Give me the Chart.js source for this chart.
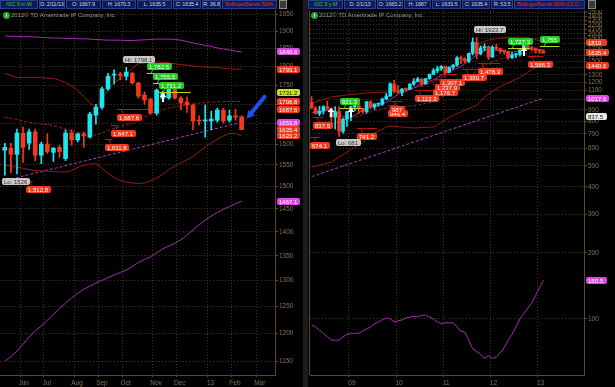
<!DOCTYPE html>
<html lang="en">
<head>
<meta charset="UTF-8">
<title>/GC gold futures</title>
<style>
  body { margin:0; background:#000; width:615px; height:387px; overflow:hidden; position:relative; font-family:"Liberation Sans", Arial, sans-serif; }
  canvas { position:absolute; top:10px; }
  #weekly { left:0; }
  #monthly { left:308px; }
  .hb { position:absolute; top:0; height:9px; box-sizing:border-box; background:#0b1b5c; border:1px solid #2c3f8c; color:#d4d4dc; font-size:5.5px; letter-spacing:-0.15px; line-height:7px; text-align:center; white-space:nowrap; overflow:hidden; }
  .hb.sym { color:#2fd02f; }
  .hb.study { color:#e0231c; text-align:left; padding-left:2px; }
  .icon { position:absolute; top:0; width:8px; height:9px; background:#3a3a3a; border:1px solid #8a8a8a; box-sizing:border-box; }
  .copy { position:absolute; top:12px; font-size:6px; color:#9c9c9c; white-space:nowrap; }
  .copy b { display:inline-block; width:7px; height:7px; border-radius:50%; background:#21a83a; color:#fff; font-size:5px; line-height:7px; text-align:center; margin-right:1px; vertical-align:middle; }
  .split { position:absolute; top:0; left:303px; width:5px; height:387px; background:#1c1c1c; }
  .edge { position:absolute; top:10px; left:309px; width:1px; height:365px; background:#5c4824; }
</style>
</head>
<body>
<div class="hb sym" style="left:0;width:38px">/GC 9 m W</div>
<div class="hb" style="left:39px;width:26px">D: 2/11/13</div>
<div class="hb" style="left:66px;width:35px">O: 1667.9</div>
<div class="hb" style="left:102px;width:34px">H: 1670.3</div>
<div class="hb" style="left:137px;width:35px">L: 1635.5</div>
<div class="hb" style="left:173px;width:28px">C: 1635.4</div>
<div class="hb" style="left:202px;width:19px">R: 36.8</div>
<div class="hb study" style="left:222px;width:55px">BollingerBands:SMA ...</div>
<div class="icon" style="left:279px"></div>

<div class="split"></div>

<div class="hb sym" style="left:308px;width:35px">/GC 5 y M</div>
<div class="hb" style="left:344px;width:32px">D: 2/1/13</div>
<div class="hb" style="left:377px;width:26px">O: 1665.2</div>
<div class="hb" style="left:404px;width:27px">H: 1687</div>
<div class="hb" style="left:432px;width:29px">L: 1633.5</div>
<div class="hb" style="left:462px;width:28px">C: 1635.4</div>
<div class="hb" style="left:491px;width:22px">R: 53.5</div>
<div class="hb study" style="left:514px;width:71px">BollingerBands:SMA (CLO...</div>
<div class="icon" style="left:588px"></div>

<canvas id="weekly" width="303" height="377"></canvas>
<canvas id="monthly" width="307" height="377"></canvas>
<div class="edge"></div>
<div class="copy" style="left:3px"><b>i</b>2012© TD Ameritrade IP Company, Inc.</div>
<div class="copy" style="left:311px"><b>i</b>2012© TD Ameritrade IP Company, Inc.</div>

<script src="https://cdn.jsdelivr.net/npm/chart.js"></script>
<script>
// ---------- weekly panel (index 0 = week of May 14 2012) ----------
const wOpen  = [1585, 1590, 1575, 1627, 1602, 1630, 1573, 1600, 1580, 1592,
                1565, 1627, 1610, 1625, 1617, 1672, 1692, 1740, 1777, 1779,
                1774, 1782, 1756, 1724, 1713, 1677, 1715, 1716, 1745, 1716,
                1706, 1698, 1659, 1657, 1657, 1659, 1685, 1659, 1670, 1667.9];
const wHigh  = [1602, 1602, 1637, 1642, 1637, 1637, 1605, 1625, 1592, 1597,
                1635, 1635, 1627, 1630, 1679, 1700, 1745, 1782, 1791, 1785,
                1798.1, 1785, 1758, 1732, 1716, 1740, 1735, 1750, 1752, 1720,
                1719, 1700, 1670, 1698, 1682, 1690, 1690, 1685, 1687, 1670.3];
const wLow   = [1526, 1532, 1529, 1556, 1587, 1560, 1553, 1577, 1558, 1568,
                1560, 1597, 1605, 1592, 1615, 1649, 1687, 1737, 1753, 1764,
                1764, 1753, 1716, 1700, 1675, 1672, 1708, 1713, 1713, 1685,
                1679, 1635, 1647, 1617, 1635, 1654, 1652, 1654, 1659, 1635.5];
const wClose = [1592, 1575, 1627, 1592, 1630, 1573, 1600, 1582, 1590, 1582,
                1627, 1610, 1625, 1620, 1675, 1692, 1740, 1774, 1779, 1776,
                1785, 1756, 1721, 1711, 1677, 1737, 1730, 1745, 1716, 1703,
                1698, 1657, 1657, 1660, 1662, 1685, 1657, 1670, 1667, 1635.4];

const wBBUpper = [1782, 1776, 1770, 1770, 1771, 1771, 1770, 1769, 1768, 1763,
                  1757, 1748, 1735, 1720, 1703, 1692, 1714, 1737, 1758, 1766,
                  1780, 1795, 1808, 1810, 1812, 1813, 1812, 1810, 1808, 1806,
                  1804, 1802, 1800, 1799, 1798, 1797, 1796, 1794, 1793, 1793.1];
const wBBMid   = [1667, 1664, 1661, 1657, 1654, 1652, 1650, 1648, 1645, 1641,
                  1637, 1632, 1629, 1626, 1623, 1622, 1627, 1633, 1638, 1643,
                  1648, 1651, 1659, 1667, 1675, 1681, 1686, 1690, 1693, 1696,
                  1699, 1701, 1703, 1704, 1706, 1706, 1707, 1707, 1707, 1706.8];
const wBBLower = [1550, 1547, 1545, 1542, 1539, 1537, 1536, 1535, 1534, 1534,
                  1533, 1537, 1544, 1549, 1552, 1553, 1542, 1530, 1520, 1514,
                  1510, 1508, 1507, 1508, 1513, 1519, 1528, 1539, 1547, 1555,
                  1562, 1570, 1581, 1593, 1603, 1612, 1620, 1626, 1626, 1620.2];
const wEnvTop  = [1886, 1885, 1885, 1884, 1884, 1883, 1882, 1881, 1880, 1880,
                  1879, 1879, 1878, 1878, 1877, 1876, 1875, 1874, 1874, 1874,
                  1873, 1873, 1874, 1875, 1876, 1877, 1877, 1877, 1876, 1874,
                  1870, 1866, 1863, 1859, 1856, 1852, 1849, 1846, 1843, 1840.6];
const wSmaLong = [1150, 1158, 1168, 1180, 1193, 1204, 1213, 1224, 1235, 1246,
                  1256, 1266, 1275, 1283, 1289, 1295, 1300, 1306, 1311, 1316,
                  1321, 1328, 1336, 1342, 1348, 1356, 1364, 1370, 1376, 1383,
                  1393, 1404, 1415, 1425, 1434, 1442, 1449, 1455, 1461, 1467.1];
const wTrendIdx = [1, 39];
const wTrendVal = [1517, 1653.8];

const wMonthPos = [2.6, 6.4, 11.4, 15.5, 19.4, 24.4, 28.3, 33.4, 37.4, 41.5];
const wMonthLbl = ['Jun', 'Jul', 'Aug', 'Sep', 'Oct', 'Nov', 'Dec', '13', 'Feb', 'Mar'];
const wPriceTicks = [1150, 1200, 1250, 1300, 1350, 1400, 1450, 1500, 1550, 1600,
                     1650, 1700, 1750, 1800, 1850, 1900, 1950];

const wSupVal  = [1687.6, 1647.1, 1611.8, 1512.8];
const wSupFrom = [18.5, 17.5, 16.5, 3.5];
const wSupTo   = [23.6, 18.7, 17.7, 4.6];
const wResVal  = [1782.5, 1755.5, 1731.2];
const wResFrom = [23.4, 24.4, 25.4];
const wResTo   = [25, 25.6, 30.6];
const wTagVal  = [1840.6, 1793.1, 1731.2, 1706.8, 1687.6, 1653.8, 1635.4, 1620.2, 1467.1];
const wTagKind = ['mag', 'red', 'yel', 'red', 'red', 'mag', 'red', 'red', 'mag'];
const wBuyIdx  = [26];
const wBuyVal  = [1729];

// ---------- monthly panel (index 0 = Jan 2009, starts Mar 2008) ----------
const mOpen  = [972, 917, 865, 887, 930, 912, 833, 884, 718, 816,
                884, 928, 942, 916, 884, 979, 927, 955, 955, 1008, 1040, 1182,
                1097, 1081, 1118, 1115, 1180, 1212, 1245, 1181, 1248, 1308, 1359, 1385,
                1421, 1333, 1410, 1439, 1556, 1536, 1500, 1628, 1828, 1620, 1724, 1746,
                1566, 1737, 1710, 1669, 1664, 1560, 1604, 1610, 1687, 1772, 1719, 1712,
                1676, 1665.2];
const mHigh  = [1034, 932, 935, 940, 988, 919, 931, 932, 825, 889,
                937, 1007, 963, 916, 985, 991, 961, 966, 1019, 1070, 1195, 1227,
                1163, 1127, 1135, 1183, 1250, 1266, 1246, 1250, 1310, 1388, 1424, 1432,
                1424, 1414, 1448, 1575, 1578, 1555, 1632, 1917, 1923.7, 1764, 1804, 1764,
                1764, 1792, 1721, 1679, 1668, 1641, 1630, 1694, 1790, 1798, 1755, 1726,
                1698, 1687];
const mLow   = [912, 861, 846, 860, 903, 775, 735, 681, 705, 755,
                802, 890, 865, 866, 868, 913, 904, 934, 942, 1000, 1036, 1075,
                1072, 1045, 1088, 1114, 1162, 1204, 1155, 1180, 1240, 1300, 1330, 1360,
                1308, 1329, 1380, 1418, 1462, 1478, 1478, 1603, 1535, 1602, 1670, 1523,
                1562, 1687, 1627, 1615, 1527, 1540, 1555, 1582, 1683, 1696, 1672, 1635,
                1627, 1633.5];
const mClose = [917, 865, 887, 930, 912, 833, 884, 718, 816, 884,
                928, 942, 916, 884, 979, 927, 955, 955, 1008, 1040, 1182, 1097,
                1081, 1118, 1115, 1180, 1212, 1245, 1181, 1248, 1308, 1359, 1385, 1421,
                1333, 1410, 1439, 1556, 1536, 1500, 1628, 1828, 1620, 1724, 1746, 1566,
                1737, 1710, 1669, 1664, 1560, 1604, 1610, 1687, 1772, 1719, 1712, 1676,
                1663, 1635.4];

const mBBUpper = [970, 977, 990, 1003, 1016, 1030, 1035, 1040, 1046, 1052,
                  1056, 1060, 1064, 1069, 1074, 1076, 1078, 1080, 1083, 1085,
                  1092, 1098, 1105, 1112, 1118, 1125, 1132, 1146, 1160, 1175,
                  1190, 1205, 1228, 1252, 1288, 1326, 1380, 1440, 1505, 1570,
                  1635, 1700, 1760, 1816, 1845, 1874, 1888, 1901, 1914, 1918,
                  1922, 1926, 1930, 1934, 1930, 1920, 1905, 1885, 1855, 1819];
const mBBMid   = [731, 738, 747, 756, 765, 775, 784, 794, 804, 815,
                  824, 834, 843, 854, 867, 880, 892, 900, 909, 918,
                  925, 927, 929, 932, 934, 936, 938, 946, 954, 962,
                  970, 978, 999, 1021, 1050, 1078, 1114, 1152, 1193, 1233,
                  1274, 1314, 1352, 1400, 1435, 1467, 1492, 1511, 1532, 1545,
                  1558, 1572, 1587, 1600, 1615, 1628, 1640, 1645, 1640, 1630];
const mBBLower = [492, 498, 503, 508, 513, 520, 533, 547, 562, 577,
                  592, 607, 622, 638, 660, 683, 705, 720, 735, 750,
                  758, 756, 753, 751, 749, 746, 744, 745, 747, 748,
                  750, 751, 770, 790, 812, 830, 847, 864, 880, 896,
                  912, 928, 943, 985, 1025, 1060, 1095, 1120, 1150, 1172,
                  1193, 1218, 1243, 1265, 1300, 1335, 1375, 1405, 1425, 1440.6];
const mSmaShort = [875, 880, 885, 890, 895, 890, 880, 855, 840, 830,
                   835, 850, 870, 900, 915, 925, 935, 940, 955, 975,
                   1000, 1030, 1060, 1080, 1100, 1115, 1135, 1160, 1185, 1200,
                   1215, 1235, 1260, 1290, 1320, 1345, 1370, 1390, 1420, 1460,
                   1500, 1550, 1610, 1650, 1680, 1700, 1690, 1680, 1670, 1660,
                   1650, 1650, 1660, 1680, 1690, 1700, 1700, 1700, 1695, 1690];
const mSmaLow = [94, 92, 89, 86, 83, 80, 80, 80, 83, 85,
                 86, 86, 86, 88, 90, 92, 95, 97, 99, 101,
                 100, 97, 98, 99, 101, 102, 103, 102, 104, 104,
                 102, 100, 97, 95, 96, 96, 96, 92, 88, 87,
                 80, 73, 71, 69, 66, 68, 66, 67, 70, 74,
                 80, 85, 92, 100, 106, 112, 118, 128, 139, 150.5];
const mTrendIdx = [-10, 49];
const mTrendVal = [446, 1017.6];

const mYearPos = [-0.5, 11.5, 23.5, 35.5, 47.5];
const mYearLbl = ['09', '10', '11', '12', '13'];
const mPriceTicks = [100, 200, 300, 400, 500, 600, 700, 800, 900, 1000, 1100, 1200, 1300,
                     1400, 1500, 1600, 1700, 1800, 1900, 2000, 2100, 2200, 2300, 2400, 2500];

const mSupVal  = [674.1, 741.2, 837.5, 946.4, 987, 1112.3, 1176.7, 1237.9, 1307.1, 1380.7, 1478.3, 1586.3];
const mSupFrom = [-10.4, 1.5, -9.7, 9.4, 9.9, 16.3, 20.9, 21.4, 22.7, 28.3, 32.3, 45];
const mSupTo   = [-8, 6.6, -7, 12, 13, 22, 24, 25, 27, 33, 38, 49];
const mResVal  = [921.3, 1727.3, 1755];
const mResFrom = [-2.8, 40, 48.1];
const mResTo   = [2.6, 45.5, 53];
const mTagVal  = [1819, 1635.4, 1440.6, 1017.6, 837.5, 150.5];
const mTagKind = ['red', 'red', 'red', 'mag', 'white', 'mag'];
const mBuyIdx  = [-5, 0, 44];
const mBuyVal  = [915, 915, 1740];

// ---------- drawing ----------
const UP = '#1fe4ef', DOWN = '#f2391c';
const BB = '#9a1a10', MAG = '#a32db3';
const AXIS = '#5c4824', GRID = '#40341c', TICK = '#8a7447';
const TAG = { red: ['#ee3a1e', '#fff'], mag: ['#e046e6', '#fff'], yel: ['#c9e41c', '#222'], white: ['#e8e8e8', '#222'] };
Chart.defaults.font.family = '"Liberation Sans", Arial, sans-serif';

const fmtLevel = v => v.toLocaleString('en-US', { minimumFractionDigits: v % 1 ? 1 : 0, maximumFractionDigits: 1 });

function tag(ctx, text, x, y, colors, anchor, minW) {
  const w = Math.max(Math.ceil(ctx.measureText(text).width) + 4, minW || 0), h = 7;
  const top = anchor === 'top' ? y : anchor === 'bottom' ? y - h : y - h / 2;
  ctx.fillStyle = colors[0];
  ctx.beginPath();
  ctx.roundRect(Math.round(x), Math.round(top), w, h, 2);
  ctx.fill();
  ctx.fillStyle = colors[1];
  ctx.fillText(text, Math.round(x) + 2, Math.round(top) + h / 2 + 0.5);
}

function seg(ctx, color, x0, y0, x1, y1) {
  ctx.strokeStyle = color;
  ctx.beginPath(); ctx.moveTo(x0, y0); ctx.lineTo(x1, y1); ctx.stroke();
}

function makeOverlay(o) {
  return {
    id: 'overlay',
    afterDatasetsDraw(chart) {
      const ctx = chart.ctx, a = chart.chartArea;
      const X = v => chart.scales.x.getPixelForValue(v), Y = v => chart.scales.y.getPixelForValue(v);
      ctx.save();
      ctx.font = '6px "Liberation Sans", Arial, sans-serif';
      ctx.textBaseline = 'middle';
      ctx.lineWidth = 1;

      ctx.save();
      ctx.beginPath(); ctx.rect(a.left, a.top, a.width, a.height); ctx.clip();
      // support levels, tag hangs below the line
      o.supVal.forEach((v, k) => {
        const y = Math.round(Y(v)) + 0.5, x0 = X(o.supFrom[k]);
        seg(ctx, '#b0180c', x0, y, X(o.supTo[k]), y);
        seg(ctx, '#b0180c', x0 + 4, y, x0 + 6, y + 4);
        tag(ctx, fmtLevel(v), x0, y + 4, TAG.red, 'top');
      });
      // resistance levels, tag sits above the line
      o.resVal.forEach((v, k) => {
        const y = Math.round(Y(v)) + 0.5, x0 = X(o.resFrom[k]);
        seg(ctx, '#c3d81e', x0, y, X(o.resTo[k]), y);
        seg(ctx, '#27cc27', x0 + 4, y, x0 + 6, y - 4);
        tag(ctx, fmtLevel(v), x0, y - 4, ['#27cc27', '#f4fff4'], 'bottom');
      });
      // highest high / lowest low
      const hiK = o.high.indexOf(Math.max(...o.high));
      const loK = o.low.indexOf(Math.min(...o.low));
      tag(ctx, 'Hi: ' + o.high[hiK], X(o.idx[hiK]) - 3, Y(o.high[hiK]) - 4, ['#c8c8c8', '#333'], 'bottom');
      tag(ctx, 'Lo: ' + o.low[loK], X(o.idx[loK]) - 3, Y(o.low[loK]) + 3, ['#c8c8c8', '#333'], 'top');
      // buy signal arrows
      ctx.fillStyle = '#fff';
      o.buyIdx.forEach((i, k) => {
        const cx = Math.round(X(i)), cy = Math.round(Y(o.buyVal[k]));
        ctx.beginPath();
        ctx.moveTo(cx, cy); ctx.lineTo(cx + 3.5, cy + 4); ctx.lineTo(cx - 3.5, cy + 4);
        ctx.closePath(); ctx.fill();
        ctx.fillRect(cx - 1, cy + 4, 2, 5);
      });
      // blue pointer on the last bar
      if (o.blue) {
        const last = o.idx.length - 1;
        const tx = X(o.idx[last]) + 5, ty = Y(o.open[last]) + 2;
        const sx = tx + 18, sy = ty - 22;
        const ang = Math.atan2(ty - sy, tx - sx);
        ctx.strokeStyle = '#1f4fe6'; ctx.fillStyle = '#1f4fe6';
        ctx.lineWidth = 4; ctx.lineCap = 'round';
        ctx.beginPath(); ctx.moveTo(sx, sy); ctx.lineTo(tx - 5 * Math.cos(ang), ty - 5 * Math.sin(ang)); ctx.stroke();
        ctx.beginPath();
        ctx.moveTo(tx, ty);
        ctx.lineTo(tx - 9 * Math.cos(ang - 0.5), ty - 9 * Math.sin(ang - 0.5));
        ctx.lineTo(tx - 9 * Math.cos(ang + 0.5), ty - 9 * Math.sin(ang + 0.5));
        ctx.closePath(); ctx.fill();
        ctx.lineWidth = 1;
      }
      ctx.restore();

      // value tags on the price axis
      o.tagVal.forEach((v, k) => tag(ctx, String(v), a.right + 2, Y(v), TAG[o.tagKind[k]], 'mid', 21));
      ctx.restore();
    }
  };
}

function panel(id, p) {
  const col = p.close.map((c, k) => c >= p.open[k] ? UP : DOWN);
  const pts = (xs, ys) => ys.map((v, k) => ({ x: xs[k], y: v }));
  const line = (xs, ys, color, dash) => ({
    type: 'line', data: pts(xs, ys), borderColor: color, borderWidth: 1,
    borderDash: dash || [], pointRadius: 0, order: 2
  });
  new Chart(document.getElementById(id), {
    type: 'bar',
    data: {
      datasets: [
        { data: p.idx.map((x, k) => ({ x, y: [Math.min(p.open[k], p.close[k]), Math.max(p.open[k], p.close[k])] })),
          backgroundColor: col, barThickness: p.bodyW, minBarLength: 1, grouped: false, order: 0 },
        { data: p.idx.map((x, k) => ({ x, y: [p.low[k], p.high[k]] })),
          backgroundColor: col, barThickness: 1, grouped: false, order: 1 },
        ...p.lines.map(l => line(l[0], l[1], l[2], l[3]))
      ]
    },
    options: {
      responsive: false,
      animation: false,
      devicePixelRatio: 1,
      layout: { padding: { left: p.padLeft, right: 0, top: 0, bottom: 0 } },
      plugins: { legend: { display: false }, tooltip: { enabled: false } },
      scales: {
        x: {
          type: 'linear', min: p.xMin, max: p.xMax, offset: false,
          afterBuildTicks: s => { s.ticks = p.xTicks.map(v => ({ value: v })); },
          afterFit: s => { s.height = 12; s.paddingLeft = 0; s.paddingRight = 0; },
          ticks: { callback: (v, k) => p.xLabels[k], autoSkip: false, maxRotation: 0,
                   labelOffset: 3, padding: 2, color: TICK, font: { size: 6.5 } },
          grid: { offset: false, color: GRID, tickLength: 2, tickColor: AXIS, tickBorderDash: [] },
          border: { color: AXIS, dash: [1, 2] }
        },
        y: {
          type: 'logarithmic', position: 'right', min: p.yMin, max: p.yMax, bounds: 'data',
          afterBuildTicks: s => { s.ticks = p.yTicks.map(v => ({ value: v })); },
          afterFit: s => { s.width = p.axisW; s.paddingTop = 0; s.paddingBottom = 0; },
          ticks: { callback: v => String(v), autoSkip: false, padding: 1, color: TICK, font: { size: 6.5 } },
          grid: { color: GRID, tickLength: 3, tickColor: AXIS, tickBorderDash: [] },
          border: { color: AXIS, dash: [1, 2] }
        }
      }
    },
    plugins: [makeOverlay(p.overlay)]
  });
}

const wIdx = wOpen.map((_, k) => k);
panel('weekly', {
  idx: wIdx, open: wOpen, high: wHigh, low: wLow, close: wClose, bodyW: 4,
  xMin: -0.8, xMax: 44.5, xTicks: wMonthPos, xLabels: wMonthLbl,
  yMin: 1126, yMax: 1962, yTicks: wPriceTicks, axisW: 28, padLeft: 0,
  lines: [
    [wIdx, wEnvTop, MAG], [wIdx, wSmaLong, MAG],
    [wIdx, wBBUpper, BB], [wIdx, wBBLower, BB], [wIdx, wBBMid, '#a81c10', [3, 2]],
    [wTrendIdx, wTrendVal, '#b43cc4', [3, 2]]
  ],
  overlay: {
    idx: wIdx, open: wOpen, high: wHigh, low: wLow,
    supVal: wSupVal, supFrom: wSupFrom, supTo: wSupTo,
    resVal: wResVal, resFrom: wResFrom, resTo: wResTo,
    tagVal: wTagVal, tagKind: wTagKind, buyIdx: wBuyIdx, buyVal: wBuyVal, blue: true
  }
});

const mIdx = mOpen.map((_, k) => k - 10);
panel('monthly', {
  idx: mIdx, open: mOpen, high: mHigh, low: mLow, close: mClose, bodyW: 3,
  xMin: -10.41, xMax: 59.31, xTicks: mYearPos, xLabels: mYearLbl,
  yMin: 55.5, yMax: 2568, yTicks: mPriceTicks, axisW: 31, padLeft: 2,
  lines: [
    [mIdx, mSmaLow, MAG], [mIdx, mSmaShort, MAG],
    [mIdx, mBBUpper, BB], [mIdx, mBBLower, BB], [mIdx, mBBMid, '#a81c10', [3, 2]],
    [mTrendIdx, mTrendVal, '#b43cc4', [3, 2]]
  ],
  overlay: {
    idx: mIdx, open: mOpen, high: mHigh, low: mLow,
    supVal: mSupVal, supFrom: mSupFrom, supTo: mSupTo,
    resVal: mResVal, resFrom: mResFrom, resTo: mResTo,
    tagVal: mTagVal, tagKind: mTagKind, buyIdx: mBuyIdx, buyVal: mBuyVal, blue: false
  }
});
</script>
</body>
</html>
